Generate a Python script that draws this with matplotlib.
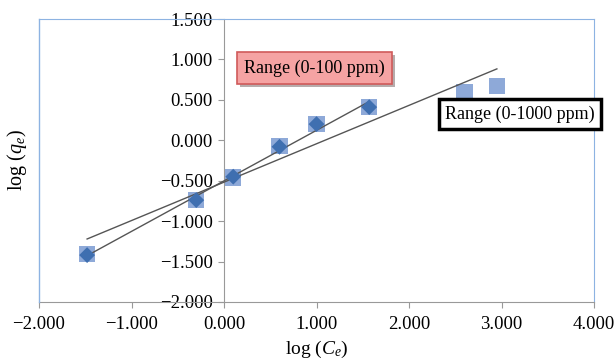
import numpy as np
import matplotlib
matplotlib.use("Agg")
import matplotlib.pyplot as plt
from matplotlib.ticker import FuncFormatter, MultipleLocator
from matplotlib.lines import Line2D
import matplotlib.patheffects as pe

plt.rcParams['font.family'] = ['Liberation Serif', 'DejaVu Serif']
plt.rcParams['mathtext.fontset'] = 'custom'
plt.rcParams['mathtext.rm'] = 'Liberation Serif'
plt.rcParams['mathtext.it'] = 'Liberation Serif:italic'

# Data (0-1000 ppm: all points; 0-100 ppm: first six)
log_ce_all = [-1.48, -0.30, 0.10, 0.60, 1.00, 1.57, 2.60, 2.95]
log_qe_all = [-1.41, -0.74, -0.46, -0.07, 0.20, 0.41, 0.60, 0.67]
log_ce_low = [-1.48, -0.30, 0.10, 0.60, 1.00, 1.57]
log_qe_low = [-1.42, -0.74, -0.45, -0.08, 0.20, 0.41]

fig = plt.figure(figsize=(6.16, 3.61), dpi=100)
ax = fig.add_axes([39/616, 1-302/361, (594-39)/616, (302-19)/361])
ax.set_xlim(-2, 4)
ax.set_ylim(-2, 1.5)

# trendlines
xa = np.array(log_ce_all); ya = np.array(log_qe_all)
pa = np.polyfit(xa, ya, 1)
xl = np.array(log_ce_low); yl = np.array(log_qe_low)
pl = np.polyfit(xl, yl, 1)
ax.plot([xa.min(), xa.max()], np.polyval(pa, [xa.min(), xa.max()]), color='#555555', lw=1.0, zorder=4)
ax.plot([xl.min(), xl.max()], np.polyval(pl, [xl.min(), xl.max()]), color='#555555', lw=1.0, zorder=4)

ax.scatter(log_ce_all, log_qe_all, marker='s', s=135, color='#8EA9D8', edgecolors='none', zorder=3)
ax.scatter(log_ce_low, log_qe_low, marker='D', s=65, color='#3F6FB0', edgecolors='none', zorder=5)

fmt = FuncFormatter(lambda v, p: f"{v:.3f}".replace('-', '\u2212'))
ax.xaxis.set_major_locator(MultipleLocator(1))
ax.yaxis.set_major_locator(MultipleLocator(0.5))
ax.xaxis.set_major_formatter(fmt)
ax.yaxis.set_major_formatter(fmt)

ax.spines['left'].set_position(('data', 0))
ax.spines['left'].set_color('#999999')
ax.spines['bottom'].set_color('#999999')
for s in ['top', 'right']:
    ax.spines[s].set_color('#8DB3E2')
ax.add_line(Line2D([0, 0], [0, 1], transform=ax.transAxes, color='#8DB3E2', lw=1.0, zorder=6, clip_on=False))

ax.tick_params(axis='both', direction='out', length=4, color='#999999', labelsize=13.5)
ax.tick_params(axis='x', pad=6)
ax.tick_params(axis='y', pad=4)

ax.set_xlabel(r'log ($\mathit{C}_e$)', fontsize=14, labelpad=4)
fig.text(17/616, 1-160/361, r'log ($\mathit{q}_e$)', rotation=90, fontsize=14.5, ha='center', va='center')

t1 = ax.text(0.22, 0.89, 'Range (0-100 ppm)', fontsize=13, ha='left', va='center', zorder=7,
             bbox=dict(boxstyle='square,pad=0.4', fc='#F5A3A3', ec='#D05A5A', lw=1.2))
t1.get_bbox_patch().set_path_effects([pe.SimplePatchShadow(offset=(2, -2), alpha=0.4), pe.Normal()])
ax.text(2.39, 0.32, 'Range (0-1000 ppm)', fontsize=13, ha='left', va='center', zorder=7,
        bbox=dict(boxstyle='square,pad=0.35', fc='white', ec='black', lw=2.5), clip_on=False)

fig.savefig('out.png', dpi=100)
